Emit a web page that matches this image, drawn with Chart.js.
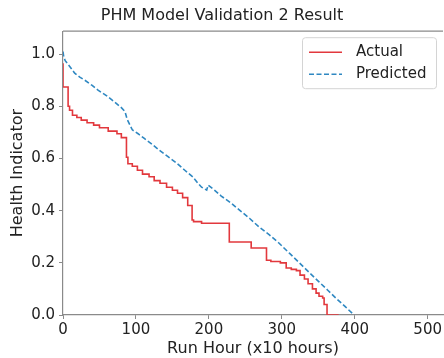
<!DOCTYPE html>
<html>
<head>
<meta charset="utf-8">
<script src="https://cdn.jsdelivr.net/npm/chart.js@4"></script>
<style>
  html, body { margin:0; padding:0; background:#fff; }
  #chart { display:block; }
</style>
</head>
<body>
<canvas id="chart" width="444" height="358"></canvas>
<script>

/* data */

const actualHours = [
  0, 1, 7, 9, 13, 19, 25, 33, 42, 50, 62, 74, 80, 87, 89, 95, 102, 109,
  118, 125, 133, 142, 150, 157, 164, 171, 177, 179, 190, 197, 228, 232,
  258, 261, 279, 285, 298, 306, 313, 320, 325, 331, 336, 342, 347, 351,
  356, 358, 362, 364, 378
];

const actualHI = [
  0.965, 0.874, 0.874, 0.80, 0.785, 0.766, 0.757, 0.747, 0.737, 0.728,
  0.718, 0.705, 0.695, 0.68, 0.605, 0.58, 0.57, 0.555, 0.54, 0.53, 0.515,
  0.505, 0.49, 0.478, 0.467, 0.45, 0.42, 0.364, 0.358, 0.352, 0.352, 0.28,
  0.28, 0.257, 0.257, 0.21, 0.205, 0.2, 0.18, 0.175, 0.17, 0.153, 0.138,
  0.12, 0.1, 0.084, 0.072, 0.065, 0.04, 0.0, 0.0
];

const predHours = [
  0, 1, 3, 10, 16, 23, 30, 40, 48, 60, 71, 80, 85, 88, 95, 103, 111, 122,
  132, 144, 156, 167, 178, 185, 190, 197, 199, 208, 217, 230, 242, 256,
  269, 283, 296, 310, 324, 338, 351, 363, 374, 387, 399
];

const predHI = [
  1.01, 0.99, 0.975, 0.95, 0.927, 0.912, 0.9, 0.88, 0.862, 0.84, 0.816,
  0.795, 0.78, 0.75, 0.71, 0.695, 0.678, 0.655, 0.632, 0.607, 0.582,
  0.555, 0.529, 0.505, 0.49, 0.479, 0.498, 0.478, 0.456, 0.43, 0.402,
  0.37, 0.337, 0.307, 0.276, 0.238, 0.2, 0.162, 0.127, 0.095, 0.065,
  0.032, 0.0
];

const seriesNames = ["Actual", "Predicted"];

const xTicks = [0, 100, 200, 300, 400, 500];
const yTicks = [0, 0.2, 0.4, 0.6, 0.8, 1.0];

const FONT = "'DejaVu Sans', sans-serif";
const RED = "#e2383d";
const BLUE = "#2f88c2";
const SPINE = "#8a8a8a";

function toPoints(xs, ys){
  return xs.map((x, i) => ({ x:x, y:ys[i] }));
}

/* top spine, matplotlib style */

const topSpine = {
  id:"topSpine",
  afterDraw(chart){
    const { ctx, chartArea } = chart;
    ctx.save();
    ctx.strokeStyle = SPINE;
    ctx.lineWidth = 1.2;
    ctx.beginPath();
    ctx.moveTo(chartArea.left, chartArea.top);
    ctx.lineTo(chartArea.right, chartArea.top);
    ctx.stroke();
    ctx.restore();
  }
};

/* legend box in the upper right corner */

const boxLegend = {
  id:"boxLegend",
  afterDraw(chart){
    const { ctx, chartArea } = chart;
    const w = 134, h = 51;
    const x0 = chartArea.right - 7 - w;
    const y0 = chartArea.top + 6;

    ctx.save();
    ctx.fillStyle = "rgba(255,255,255,0.85)";
    ctx.strokeStyle = "#d4d4d4";
    ctx.lineWidth = 1;
    ctx.beginPath();
    ctx.roundRect(x0 + 0.5, y0 + 0.5, w, h, 3);
    ctx.fill();
    ctx.stroke();

    ctx.font = "15px " + FONT;
    ctx.textBaseline = "middle";
    ctx.fillStyle = "#222";

    chart.data.datasets.forEach((ds, i) => {
      const yy = y0 + 15 + i * 22;
      ctx.strokeStyle = ds.borderColor;
      ctx.lineWidth = 1.6;
      ctx.setLineDash(ds.borderDash || []);
      ctx.beginPath();
      ctx.moveTo(x0 + 7, yy);
      ctx.lineTo(x0 + 40, yy);
      ctx.stroke();
      ctx.setLineDash([]);
      ctx.fillText(ds.label, x0 + 54, yy);
    });

    ctx.restore();
  }
};

new Chart(document.getElementById("chart"), {

  type:"line",

  data:{
    datasets:[
      {
        label:seriesNames[0],
        data:toPoints(actualHours, actualHI),
        borderColor:RED,
        borderWidth:1.6,
        pointRadius:0,
        stepped:"after",
        fill:false
      },
      {
        label:seriesNames[1],
        data:toPoints(predHours, predHI),
        borderColor:BLUE,
        borderWidth:1.6,
        borderDash:[5, 2.5],
        pointRadius:0,
        tension:0,
        fill:false
      }
    ]
  },

  options:{
    responsive:false,
    animation:false,
    devicePixelRatio:1,
    layout:{ padding:{ left:0, right:0, top:0, bottom:0 } },
    plugins:{
      legend:{ display:false },
      tooltip:{ enabled:false },
      title:{
        display:true,
        text:"PHM Model Validation 2 Result",
        color:"#222",
        font:{ family:FONT, size:16, weight:"normal" },
        padding:{ top:6, bottom:6 }
      }
    },
    scales:{
      x:{
        type:"linear",
        min:0,
        max:521,
        afterFit(scale){ scale.height = 43; },
        afterBuildTicks(scale){
          scale.ticks = xTicks.map(v => ({ value:v }));
        },
        ticks:{
          color:"#222",
          font:{ family:FONT, size:15 },
          padding:2,
          maxRotation:0,
          autoSkip:false
        },
        grid:{
          drawOnChartArea:false,
          drawTicks:true,
          tickLength:4,
          color:SPINE
        },
        border:{ display:true, color:SPINE, width:1.2 },
        title:{
          display:true,
          text:"Run Hour (x10 hours)",
          color:"#222",
          font:{ family:FONT, size:16 },
          padding:{ top:0, bottom:0 }
        }
      },
      y:{
        min:0,
        max:1.088,
        afterFit(scale){ scale.width = 63; },
        afterBuildTicks(scale){
          scale.ticks = yTicks.map(v => ({ value:v }));
        },
        ticks:{
          color:"#222",
          font:{ family:FONT, size:15 },
          padding:4,
          callback:v => v.toFixed(1)
        },
        grid:{
          drawOnChartArea:false,
          drawTicks:true,
          tickLength:4,
          color:SPINE
        },
        border:{ display:true, color:SPINE, width:1.2 },
        title:{
          display:true,
          text:"Health Indicator",
          color:"#222",
          font:{ family:FONT, size:16 },
          padding:{ top:8, bottom:0 }
        }
      }
    }
  },

  plugins:[topSpine, boxLegend]

});

</script>
</body>
</html>
